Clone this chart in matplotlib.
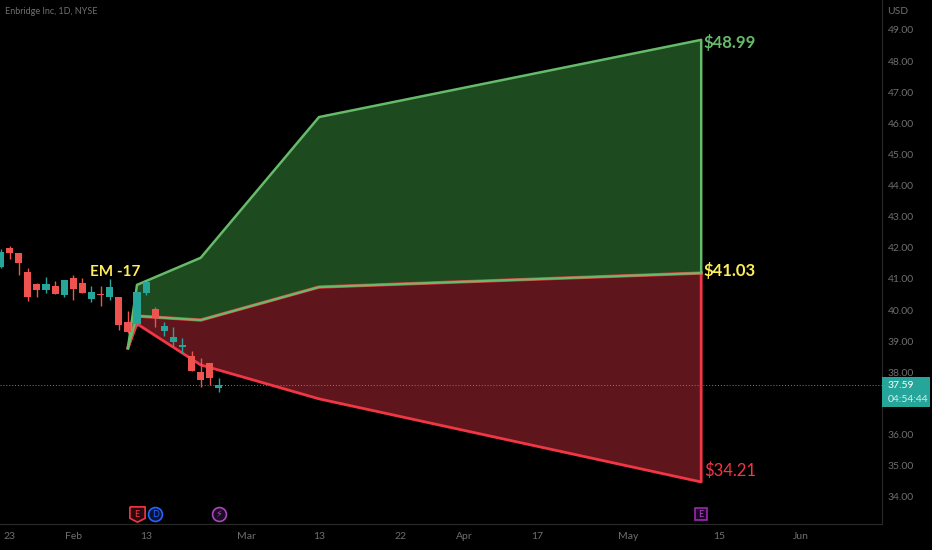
import matplotlib
matplotlib.use('Agg')
import matplotlib.pyplot as plt
from matplotlib.patches import Rectangle

plt.rcParams['font.family'] = ['Lato', 'DejaVu Sans']

# daily candles
opens = [41.40, 41.997, 41.85, 41.215, 40.84, 40.63, 40.79, 40.49, 41.04, 40.88, 40.37, 40.53, 40.43,
         40.41, 39.61, 39.56, 40.56, 40.04, 39.34, 38.98, 38.82, 38.51, 38.00, 38.29, 37.50]
closes = [41.88, 41.85, 41.51, 40.43, 40.63, 40.84, 40.51, 40.97, 40.69, 40.55, 40.58, 40.48, 40.74,
          39.52, 39.30, 40.58, 40.91, 39.76, 39.50, 39.15, 38.89, 38.05, 37.76, 37.83, 37.60]
highs = [41.95, 42.07, 41.85, 41.34, 40.86, 41.05, 40.92, 40.97, 41.13, 41.04, 40.78, 40.78, 40.99,
         40.43, 39.97, 40.58, 40.91, 40.11, 39.61, 39.47, 39.09, 38.70, 38.45, 38.29, 37.81]
lows = [41.35, 41.63, 41.13, 40.29, 40.43, 40.54, 40.51, 40.41, 40.31, 40.55, 40.27, 40.13, 40.31,
        39.36, 39.26, 39.48, 40.48, 39.45, 39.17, 38.85, 38.61, 38.05, 37.54, 37.60, 37.38]

# expected move cone
cone_x = [14, 15, 22, 35, 77]
cone_upper = [38.78, 40.81, 41.68, 46.20, 48.68]
cone_mid = [38.78, 39.81, 39.68, 40.74, 41.19]
cone_lower = [38.78, 39.56, 38.24, 37.15, 34.48]

x_ticks = [1, 8, 16, 27, 35, 44, 51, 59, 69, 79, 88]
x_labels = ['23', 'Feb', '13', 'Mar', '13', '22', 'Apr', '17', 'May', '15', 'Jun']
y_ticks = [34, 35, 36, 38, 39, 40, 41, 42, 43, 44, 45, 46, 47, 48, 49]

last_price = 37.59
countdown = '04:54:44'

UP = '#26a69a'
DOWN = '#ef5350'
GREEN = '#66bb6a'
RED = '#f23645'
YELLOW = '#ffee58'
GRID = '#2a2a2a'
TICK = '#6f6f6f'

fig = plt.figure(figsize=(9.32, 5.5), dpi=100, facecolor='black')
ax = fig.add_axes([0, 26 / 550, 882 / 932, 524 / 550], facecolor='black')
ax.set_xlim(-0.055, 96.87)
ax.set_ylim(33.13, 49.96)

# cone fills and outlines
ax.fill_between(cone_x, cone_mid, cone_upper, color='#1e4a1f', linewidth=0, zorder=1)
ax.fill_between(cone_x, cone_lower, cone_mid, color='#5e161c', linewidth=0, zorder=1)
ax.plot(cone_x + [cone_x[-1]], cone_lower + [cone_mid[-1]], color=RED, linewidth=2, zorder=2)
ax.plot(cone_x, cone_mid, color=RED, linewidth=2.4, zorder=2)
ax.plot(cone_x, cone_mid, color=GREEN, linewidth=1.6, zorder=2.1)
ax.plot(cone_x + [cone_x[-1]], cone_upper + [cone_mid[-1]], color=GREEN, linewidth=1.8, zorder=2.2)

# candles
for i in range(len(opens)):
    col = UP if closes[i] >= opens[i] else DOWN
    ax.vlines(i, lows[i], highs[i], color=col, linewidth=1, zorder=3)
    ax.bar(i, abs(closes[i] - opens[i]), bottom=min(opens[i], closes[i]), width=0.78,
           color=col, linewidth=0, zorder=3.1)

# last price line and box
ax.axhline(last_price, color=UP, linewidth=0.7, linestyle=(0, (1, 2)), zorder=1.5)
box_trans = ax.get_yaxis_transform()
ax.add_patch(Rectangle((1.0, 36.88), 48 / 882, 0.97, transform=box_trans, facecolor=UP,
                       edgecolor='none', clip_on=False, zorder=5))
ax.text(1.0 + 6 / 882, 37.59, f'{last_price:.2f}', transform=box_trans, color='white', fontsize=7.5,
        va='center', ha='left', zorder=6)
ax.text(1.0 + 6 / 882, 37.13, countdown, transform=box_trans, color='#d5f0ec', fontsize=7.5,
        va='center', ha='left', zorder=6)

# cone labels
ax.text(77.3, 48.60, '$48.99', color=GREEN, fontsize=12, fontweight='bold', va='center', ha='left')
ax.text(77.3, 41.27, '$41.03', color=YELLOW, fontsize=12, fontweight='bold', va='center', ha='left')
ax.text(77.3, 34.83, '$34.21', color=RED, fontsize=12, va='center', ha='left')
ax.text(12.6, 41.22, 'EM -17', color=YELLOW, fontsize=11, fontweight='bold', va='center', ha='center')

ax.text(5, 538, 'Enbridge Inc, 1D, NYSE', transform=None, color='#707070', fontsize=6.5, va='center')

# event markers along the bottom
marker_y = 33.45
shield = [(-1, 1), (1, 1), (1, -0.5), (0, -1), (-1, -0.5), (-1, 1)]
ax.plot(15, marker_y, marker=shield, markersize=11, mfc='#2a0a0e', mec=RED, mew=1.2, linestyle='none', zorder=4)
ax.plot(17, marker_y, marker='o', markersize=10, mfc='#0a1433', mec='#2962ff', mew=1.2, linestyle='none', zorder=4)
ax.plot(24, marker_y, marker='o', markersize=10, mfc='#1c0c26', mec='#ab47bc', mew=1.2, linestyle='none', zorder=4)
ax.plot(77, marker_y, marker='s', markersize=9, mfc='#1c0526', mec='#9c27b0', mew=1.2, linestyle='none', zorder=4)
ax.text(15, marker_y, 'E', color=RED, fontsize=6.5, ha='center', va='center', zorder=5)
ax.text(17, marker_y, 'D', color='#2962ff', fontsize=6.5, ha='center', va='center', zorder=5)
ax.text(24, marker_y, '\u26a1', color='#ab47bc', fontsize=7, ha='center', va='center', zorder=5,
        family='DejaVu Sans')
ax.text(77, marker_y, 'E', color='#ab47bc', fontsize=6.5, ha='center', va='center', zorder=5)

# axes
for side in ['top', 'left']:
    ax.spines[side].set_visible(False)
for side in ['right', 'bottom']:
    ax.spines[side].set_color(GRID)
ax.yaxis.tick_right()
ax.set_yticks(y_ticks)
ax.set_yticklabels([f'{v:.2f}' for v in y_ticks])
ax.set_xticks(x_ticks)
ax.set_xticklabels(x_labels)
ax.tick_params(axis='y', length=0, pad=4, labelcolor=TICK, labelsize=7.5)
ax.tick_params(axis='x', length=0, pad=6, labelcolor=TICK, labelsize=7.5)
fig.text(887 / 932, 1 - 11 / 550, 'USD', color=TICK, fontsize=7.5, va='center', ha='left')

fig.savefig('out.png', dpi=100, facecolor='black')
